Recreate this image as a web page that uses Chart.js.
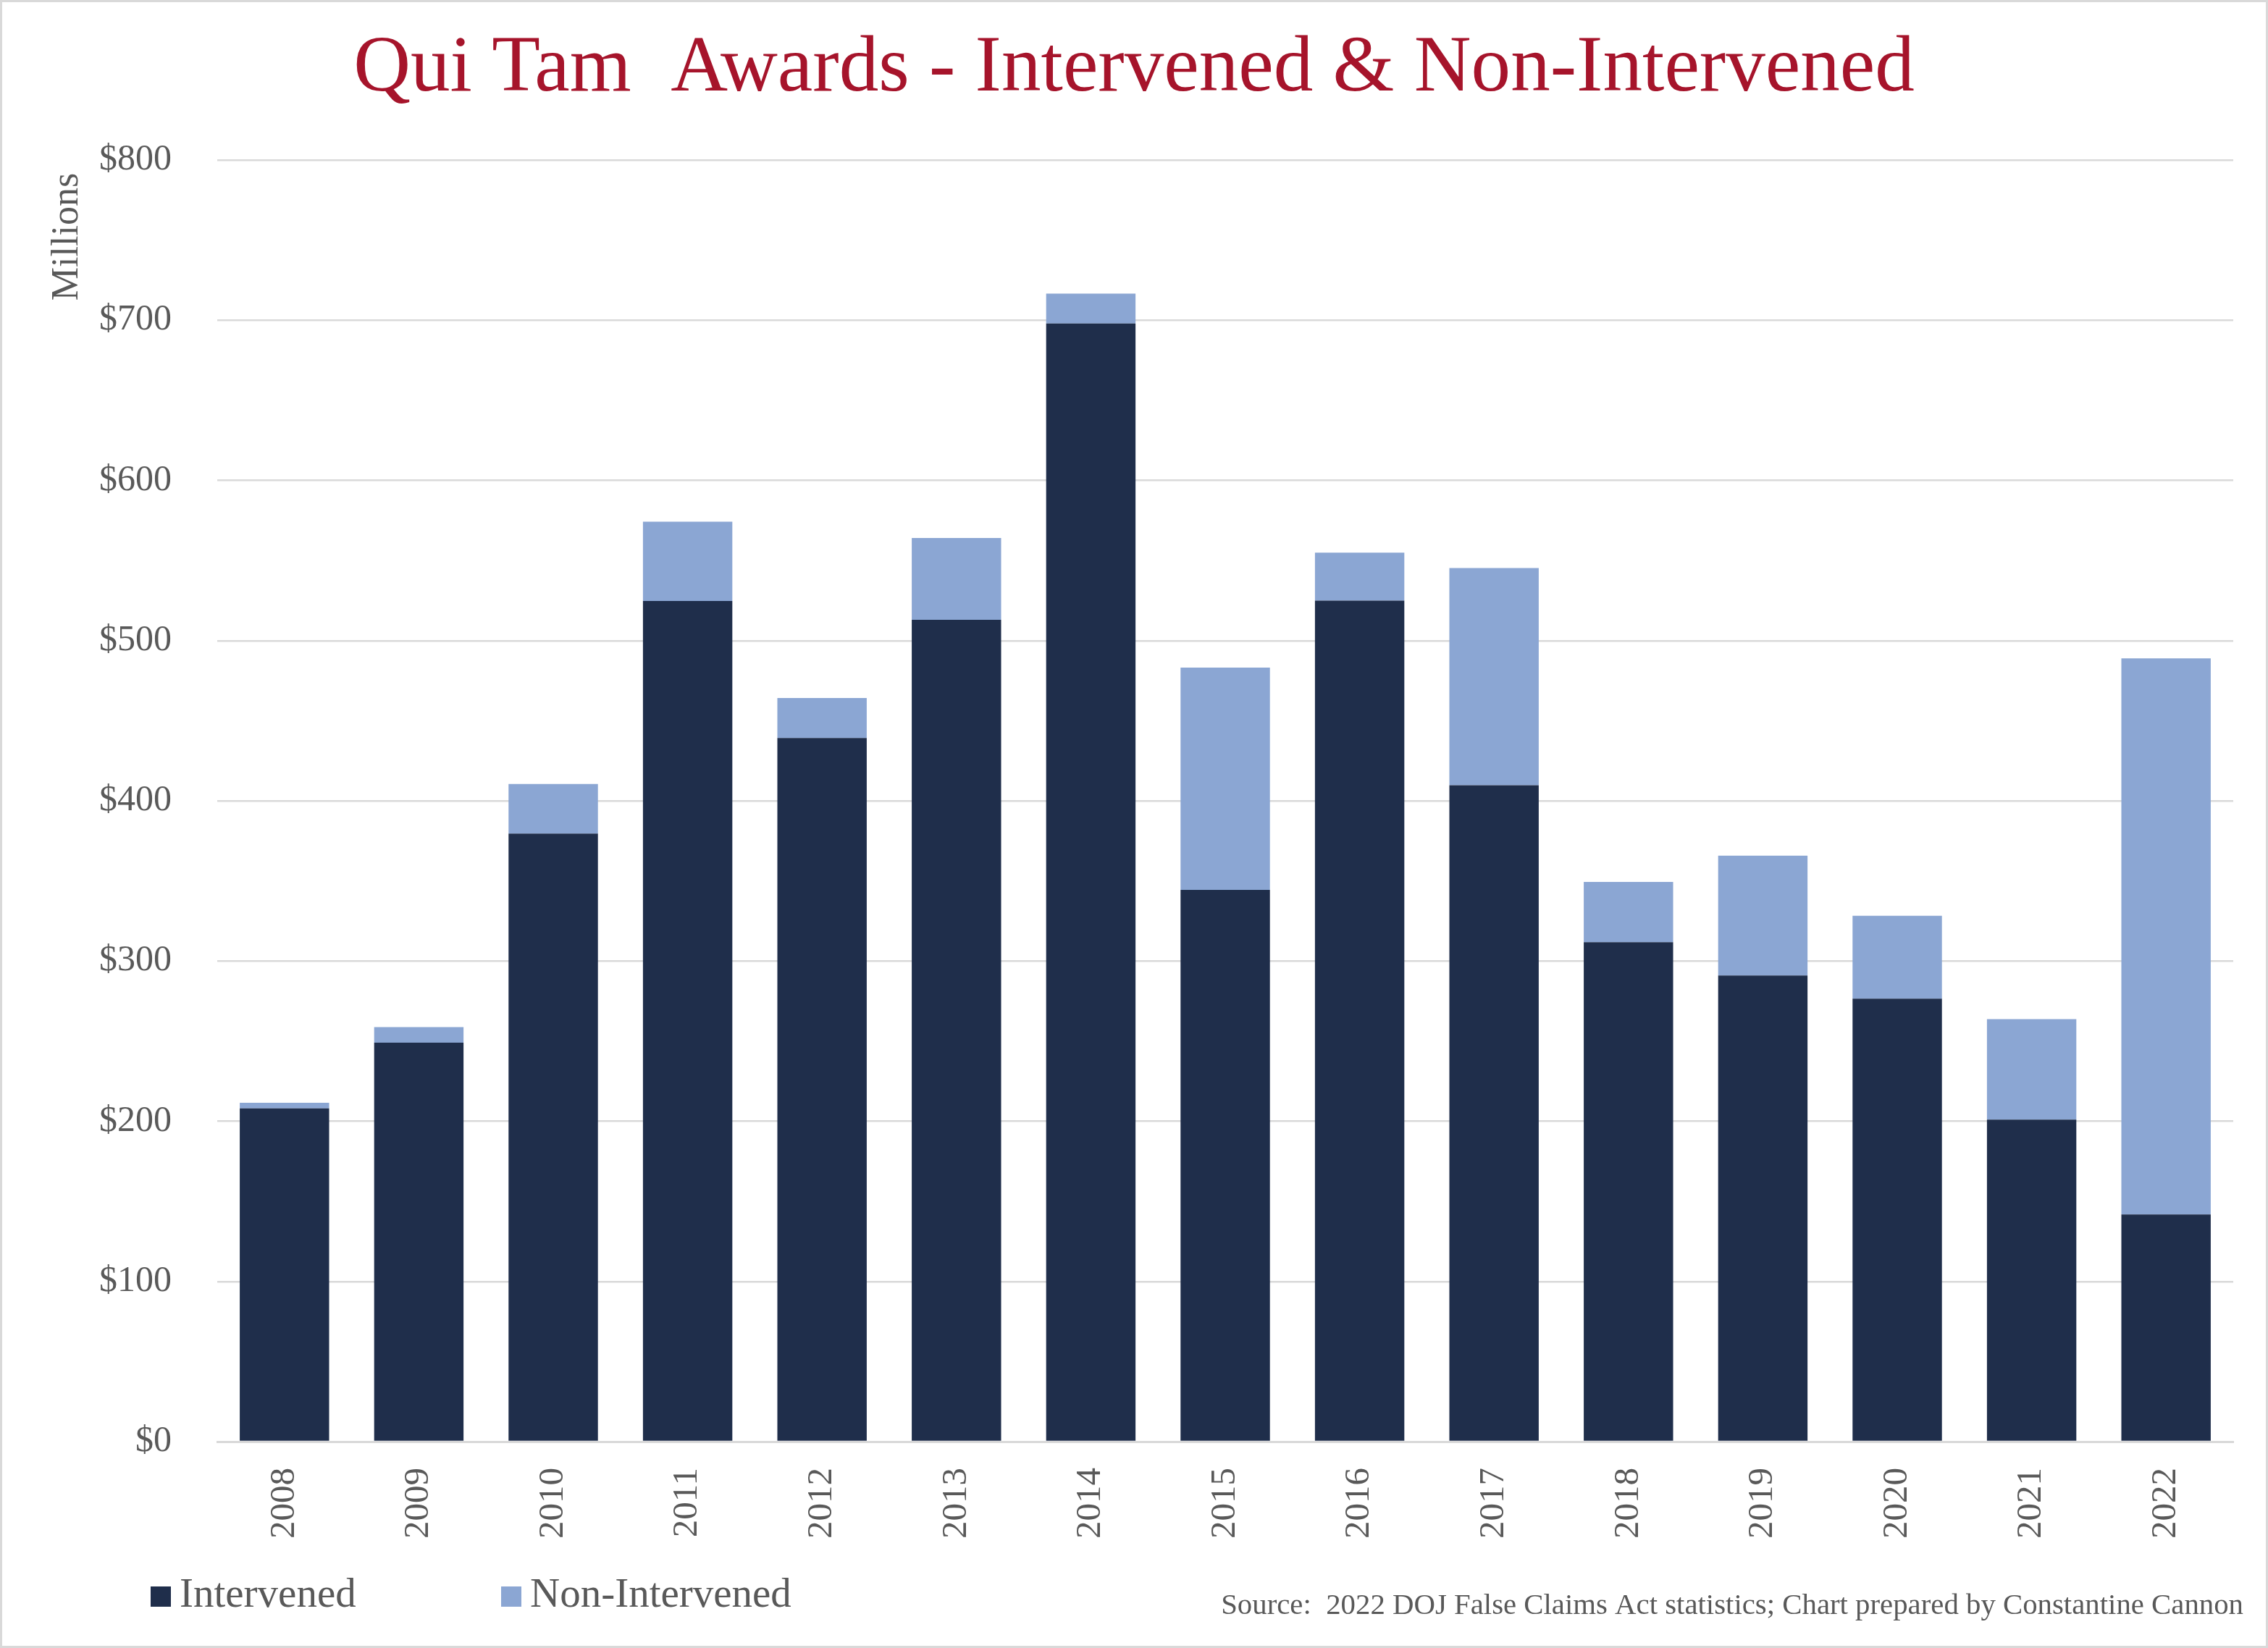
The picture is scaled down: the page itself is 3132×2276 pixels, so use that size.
<!DOCTYPE html>
<html>
<head>
<meta charset="utf-8">
<title>Qui Tam Awards - Intervened & Non-Intervened</title>
<script src="https://cdn.jsdelivr.net/npm/chart.js@4.4.1/dist/chart.umd.min.js"></script>
<style>
  html, body { margin: 0; padding: 0; background: #ffffff; overflow: hidden; }
  canvas { display: block; }
</style>
</head>
<body>
<canvas id="awards-chart" width="3132" height="2276"></canvas>
<script>
// Values in millions of dollars
const years = ['2008', '2009', '2010', '2011', '2012', '2013', '2014', '2015',
               '2016', '2017', '2018', '2019', '2020', '2021', '2022'];
const intervened = [208, 249, 379.5, 524.7, 439.2, 513, 698, 344.4,
                    525, 409.7, 311.7, 291, 276.5, 201, 141.8];
const nonIntervened = [3.5, 9.8, 31, 49.5, 25, 51.1, 18.6, 138.8,
                       29.9, 135.6, 37.7, 74.8, 51.7, 62.7, 347.1];
const yMax = 800;
const yStep = 100;

const titleText = 'Qui Tam  Awards - Intervened & Non-Intervened';
const axisTitle = 'Millions';
const sourceText = 'Source:  2022 DOJ False Claims Act statistics; Chart prepared by Constantine Cannon';

const SERIF = '"Liberation Serif", "Times New Roman", serif';
const GREY = '#595959';

// fit a string to a target pixel width
function fitSize(text, targetWidth) {
    const ctx = document.createElement('canvas').getContext('2d');
    ctx.font = '100px ' + SERIF;
    return 100 * targetWidth / ctx.measureText(text).width;
}

const titleSize = Math.min(118, fitSize(titleText, 2156));
const sourceSize = Math.min(42, fitSize(sourceText, 1412));

/**
 * Extras drawn on top: y axis title at the top, legend row, source note, frame
 */
const extrasPlugin = {
    id: 'extras',
    afterDraw(chart) {
        const ctx = chart.ctx;
        ctx.save();

        // "Millions" rotated, near the top of the axis
        ctx.fillStyle = GREY;
        ctx.font = '52px ' + SERIF;
        ctx.translate(107, 327);
        ctx.rotate(-Math.PI / 2);
        ctx.textAlign = 'center';
        ctx.textBaseline = 'alphabetic';
        ctx.fillText(axisTitle, 0, 0);
        ctx.setTransform(1, 0, 0, 1, 0, 0);

        // legend
        const legendX = [208, 692];
        ctx.font = '57px ' + SERIF;
        ctx.textAlign = 'left';
        chart.data.datasets.forEach((ds, i) => {
            ctx.fillStyle = ds.backgroundColor;
            ctx.fillRect(legendX[i], 2191, 28, 28);
            ctx.fillStyle = GREY;
            ctx.fillText(ds.label, legendX[i] + 40, 2219);
        });

        // source note
        ctx.font = sourceSize + 'px ' + SERIF;
        ctx.textAlign = 'right';
        ctx.fillText(sourceText, 3098, 2229);

        // outer frame
        ctx.strokeStyle = '#d9d9d9';
        ctx.lineWidth = 3;
        ctx.strokeRect(1.5, 1.5, chart.width - 3, chart.height - 3);
        ctx.restore();
    }
};

const ctx = document.getElementById('awards-chart').getContext('2d');

const awardsChart = new Chart(ctx, {
    type: 'bar',
    data: {
        labels: years,
        datasets: [{
            label: 'Intervened',
            data: intervened,
            backgroundColor: '#1F2E4B',
            borderWidth: 0
        }, {
            label: 'Non-Intervened',
            data: nonIntervened,
            backgroundColor: '#8BA6D3',
            borderWidth: 0
        }]
    },
    options: {
        responsive: false,
        devicePixelRatio: 1,
        animation: false,
        layout: {
            padding: { left: 48, right: 48, top: 0, bottom: 0 }
        },
        datasets: {
            bar: {
                categoryPercentage: 1,
                barPercentage: 0.665
            }
        },
        scales: {
            x: {
                stacked: true,
                afterFit: scale => { scale.height = 285; },
                grid: { display: false, drawTicks: false },
                border: { display: true, color: '#d9d9d9', width: 3 },
                ticks: {
                    color: GREY,
                    font: { family: SERIF, size: 49 },
                    minRotation: 90,
                    maxRotation: 90,
                    padding: 36,
                    autoSkip: false
                }
            },
            y: {
                stacked: true,
                min: 0,
                max: yMax,
                afterFit: scale => { scale.width = 252; },
                grid: { color: '#d9d9d9', lineWidth: 2.5, drawTicks: false },
                border: { display: false },
                ticks: {
                    stepSize: yStep,
                    color: GREY,
                    font: { family: SERIF, size: 50 },
                    padding: 63,
                    callback: value => '$' + value
                }
            }
        },
        plugins: {
            legend: { display: false },
            tooltip: { enabled: false },
            title: {
                display: true,
                text: titleText,
                color: '#A6142B',
                font: { family: SERIF, size: titleSize, weight: 'normal', lineHeight: 1.2 },
                padding: { top: 31, bottom: 221 - 31 - titleSize * 1.2 }
            }
        }
    },
    plugins: [extrasPlugin]
});
</script>
</body>
</html>
